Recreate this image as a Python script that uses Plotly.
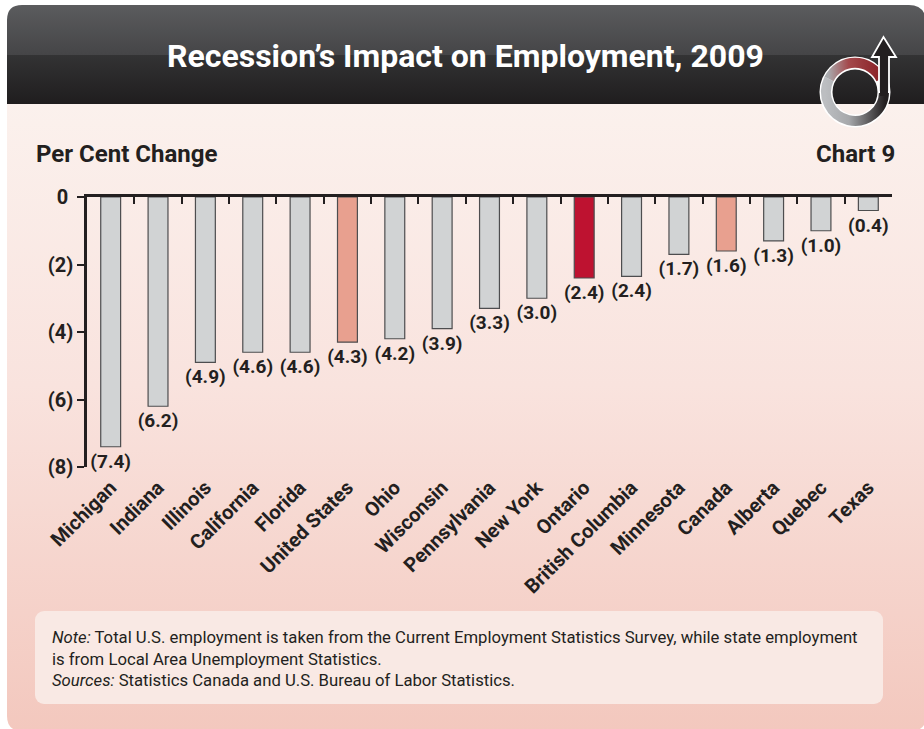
import base64
import plotly.graph_objects as go

categories = ["Michigan","Indiana","Illinois","California","Florida","United States","Ohio","Wisconsin",
              "Pennsylvania","New York","Ontario","British Columbia","Minnesota","Canada","Alberta","Quebec","Texas"]
values = [-7.4,-6.2,-4.9,-4.6,-4.6,-4.3,-4.2,-3.9,-3.3,-3.0,-2.4,-2.35,-1.7,-1.6,-1.3,-1.0,-0.4]
labels = ["(7.4)","(6.2)","(4.9)","(4.6)","(4.6)","(4.3)","(4.2)","(3.9)","(3.3)","(3.0)","(2.4)","(2.4)","(1.7)","(1.6)","(1.3)","(1.0)","(0.4)"]
GREY, SALMON, RED = "#d1d3d4", "#e8a08f", "#be1230"
colors = [GREY]*17
colors[5] = SALMON; colors[13] = SALMON; colors[10] = RED
y_ticks = [0,-2,-4,-6,-8]
y_ticktext = ["0\u00a0","(2)","(4)","(6)","(8)"]

W, H = 924, 729
INK = "#231f20"
NARROW = "Roboto, Liberation Sans, sans-serif"

svg = f'''<svg xmlns="http://www.w3.org/2000/svg" width="{W}" height="{H}" viewBox="0 0 {W} {H}">
<defs>
<linearGradient id="body" x1="0" y1="0" x2="0" y2="1"><stop offset="0" stop-color="#fbf1ed"/><stop offset="0.45" stop-color="#f9e3de"/><stop offset="1" stop-color="#f3c8be"/></linearGradient>
<linearGradient id="h1" x1="0" y1="0" x2="0" y2="1"><stop offset="0" stop-color="#5d5e60"/><stop offset="1" stop-color="#454547"/></linearGradient>
<linearGradient id="h2" x1="0" y1="0" x2="0" y2="1"><stop offset="0" stop-color="#333334"/><stop offset="1" stop-color="#1f1d1e"/></linearGradient>
<linearGradient id="redarc" gradientUnits="userSpaceOnUse" x1="828" y1="72" x2="880" y2="70"><stop offset="0" stop-color="#a9abae"/><stop offset="0.4" stop-color="#a4494c"/><stop offset="1" stop-color="#8a2227"/></linearGradient>
<linearGradient id="ring" gradientUnits="userSpaceOnUse" x1="825" y1="100" x2="885" y2="100"><stop offset="0" stop-color="#bcbec1"/><stop offset="0.4" stop-color="#a6a8ab"/><stop offset="1" stop-color="#231f20"/></linearGradient>
<clipPath id="panel"><path d="M22 5 H909 Q924 5 926 20 V716 Q926 731 911 731 H22 Q7 731 7 716 V20 Q7 5 22 5 Z"/></clipPath>
</defs>
<rect width="{W}" height="{H}" fill="#ffffff"/>
<g clip-path="url(#panel)">
<rect x="0" y="104" width="{W}" height="{H-104}" fill="url(#body)"/>
<rect x="0" y="0" width="{W}" height="55" fill="url(#h1)"/>
<rect x="0" y="55" width="{W}" height="49" fill="url(#h2)"/>
</g>
<rect x="35" y="611" width="848" height="93" rx="9" fill="#f9e9e4"/>
<g fill="none">
<circle cx="855" cy="92" r="29" stroke="#ffffff" stroke-width="13"/>
<path d="M884 92 A29 29 0 1 1 829 79" stroke="url(#ring)" stroke-width="10"/>
<path d="M829 79 A29 29 0 0 1 881 79" stroke="url(#redarc)" stroke-width="10"/>
</g>
<path d="M879 92 V57 H872 L883.500 37 L896 57 H889 V92 Z" fill="#231f20" stroke="#ffffff" stroke-width="1.800"/>
<rect x="880" y="80" width="8" height="16" fill="#231f20"/>
</svg>'''
bg_uri = "data:image/svg+xml;base64," + base64.b64encode(svg.encode()).decode()

fig = go.Figure()
fig.add_bar(x=categories, y=values, width=0.42, xaxis="x", yaxis="y",
            marker=dict(color=colors, line=dict(color="#4d4d4f", width=1.2)),
            text=labels, textposition="outside", cliponaxis=False, constraintext="none",
            textangle=0, textfont=dict(family=NARROW, size=19, color=INK, weight="bold"),
            hoverinfo="skip", showlegend=False)
fig.add_scatter(x=categories, y=[None]*17, xaxis="x2", yaxis="y", mode="markers", showlegend=False, hoverinfo="skip")

dom_x = [87/W, 892/W]
dom_y = [1-467/H, 1-197/H]
fig.update_layout(
    width=W, height=H, margin=dict(l=0,r=0,t=0,b=0), autosize=False,
    paper_bgcolor="#ffffff", plot_bgcolor="rgba(0,0,0,0)",
    images=[dict(source=bg_uri, xref="paper", yref="paper", x=0, y=1, sizex=1, sizey=1,
                 xanchor="left", yanchor="top", sizing="stretch", layer="below")],
    xaxis=dict(domain=dom_x, categoryorder="array", categoryarray=categories, anchor="y", side="bottom", automargin=False,
               range=[-0.5,16.5], autorange=False, ticklabelstandoff=4,
               tickangle=-45, ticks="", showline=False, showgrid=False, zeroline=False,
               tickfont=dict(family=NARROW, size=20, color=INK, weight="bold")),
    xaxis2=dict(domain=dom_x, overlaying="x", matches="x", anchor="y", side="top", automargin=False,
                ticks="inside", tickson="boundaries", ticklen=7, tickwidth=2, tickcolor=INK,
                showticklabels=False, showline=True, linecolor=INK, linewidth=2.5, showgrid=False, zeroline=False),
    yaxis=dict(domain=dom_y, range=[-8,0], tickmode="array", tickvals=y_ticks, ticktext=y_ticktext, automargin=False,
               ticks="outside", ticklen=7, tickwidth=2, tickcolor=INK, showline=True, linecolor=INK, linewidth=2.5,
               showgrid=False, zeroline=False,
               tickfont=dict(family=NARROW, size=20, color=INK, weight="bold")),
    annotations=[
        dict(text="Recession’s Impact on Employment, 2009", xref="paper", yref="paper", x=465/W, y=1-56/H,
             xanchor="center", yanchor="middle", showarrow=False,
             font=dict(family=NARROW, size=32, color="#ffffff", weight="bold")),
        dict(text="Per Cent Change", xref="paper", yref="paper", x=34/W, y=1-154/H, xanchor="left", yanchor="middle",
             showarrow=False, font=dict(family=NARROW, size=24, color=INK, weight="bold")),
        dict(text="Chart 9", xref="paper", yref="paper", x=897/W, y=1-154/H, xanchor="right", yanchor="middle",
             showarrow=False, font=dict(family=NARROW, size=24, color=INK, weight="bold")),
        dict(text="<i>Note:</i> Total U.S. employment is taken from the Current Employment Statistics Survey, while state employment<br>"
                  "is from Local Area Unemployment Statistics.<br><i>Sources:</i> Statistics Canada and U.S. Bureau of Labor Statistics.",
             xref="paper", yref="paper", x=50/W, y=1-659/H, xanchor="left", yanchor="middle", align="left",
             showarrow=False, font=dict(family=NARROW, size=16.7, color=INK)),
    ],
)
fig.write_html("out.html", config=dict(displayModeBar=False), post_script="document.body.style.margin='0';document.body.style.overflow='hidden';")
